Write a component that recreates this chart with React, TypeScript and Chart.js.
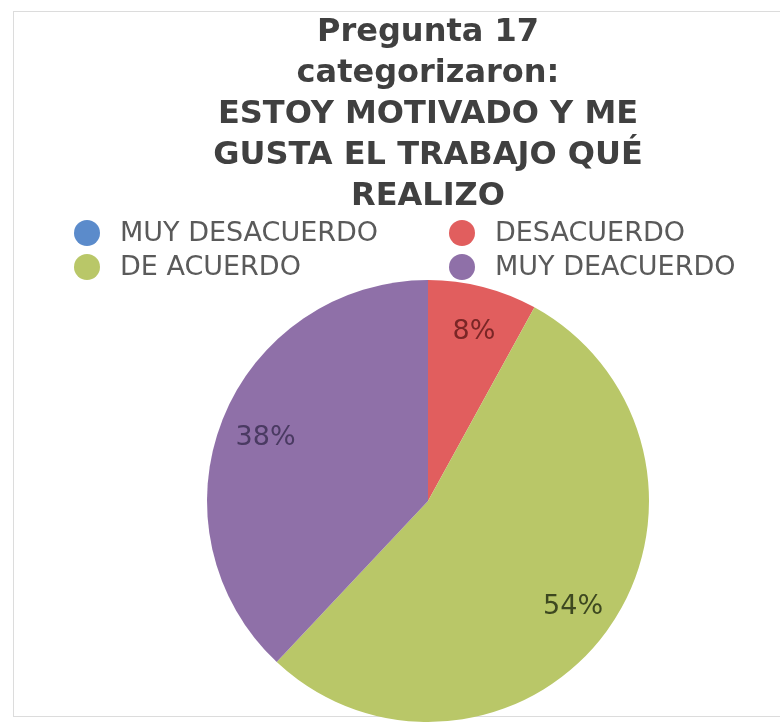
import React, { useEffect, useRef } from "react";
import { Chart, registerables } from "chart.js";

Chart.register(...registerables);

const titleLines = [
  "Pregunta 17",
  "categorizaron:",
  "ESTOY MOTIVADO Y ME",
  "GUSTA EL TRABAJO QUÉ",
  "REALIZO",
];
const categories = ["MUY DESACUERDO", "DESACUERDO", "DE ACUERDO", "MUY DEACUERDO"];
const percentages = [0, 8, 54, 38];
const sliceColors = ["#5B8BCB", "#E15E5E", "#B9C768", "#8F70A8"];
const labelColors = ["#2e4a70", "#7a2626", "#3d4820", "#4a3a62"];

// Two-column legend drawn between the title and the pie
const gridLegend = {
  id: "gridLegend",
  afterDraw(chart: any) {
    const ctx = chart.ctx;
    const colX = [87, 462];
    const rowY = [233, 267];
    ctx.save();
    ctx.font = "27px 'DejaVu Sans'";
    ctx.textBaseline = "middle";
    ctx.textAlign = "left";
    categories.forEach((name, i) => {
      const x = colX[i % 2];
      const y = rowY[Math.floor(i / 2)];
      ctx.fillStyle = sliceColors[i];
      ctx.beginPath();
      ctx.arc(x, y, 13, 0, Math.PI * 2);
      ctx.fill();
      ctx.fillStyle = "#5a5a5a";
      ctx.fillText(name, x + 33, y + 1);
    });
    ctx.restore();
  },
};

// Percentage labels placed inside each slice
const sliceLabels = {
  id: "sliceLabels",
  afterDatasetsDraw(chart: any) {
    const ctx = chart.ctx;
    const meta = chart.getDatasetMeta(0);
    ctx.save();
    ctx.font = "27px 'DejaVu Sans'";
    ctx.textAlign = "center";
    ctx.textBaseline = "middle";
    meta.data.forEach((arc: any, i: number) => {
      const v = percentages[i];
      if (!v) return;
      const { x, y, startAngle, endAngle, outerRadius } = arc.getProps(
        ["x", "y", "startAngle", "endAngle", "outerRadius"],
        true
      );
      const mid = (startAngle + endAngle) / 2;
      const r = outerRadius * 0.8;
      ctx.fillStyle = labelColors[i];
      ctx.fillText(`${v}%`, x + Math.cos(mid) * r + 2, y + Math.sin(mid) * r + 2);
    });
    ctx.restore();
  },
};

export default function App() {
  const canvasRef = useRef<HTMLCanvasElement>(null);

  useEffect(() => {
    if (!canvasRef.current) return;
    const chart = new Chart(canvasRef.current, {
      type: "pie",
      data: {
        labels: categories,
        datasets: [
          {
            data: percentages,
            backgroundColor: sliceColors,
            borderWidth: 0,
          },
        ],
      },
      options: {
        animation: false,
        responsive: false,
        maintainAspectRatio: false,
        layout: { padding: { left: 207, right: 131, top: 0, bottom: 1 } },
        plugins: {
          legend: { display: false },
          tooltip: { enabled: false },
          title: {
            display: true,
            text: titleLines,
            color: "#404040",
            font: { family: "'DejaVu Sans'", size: 32, weight: "bold", lineHeight: 41 / 32 },
            padding: { top: 12, bottom: 63 },
          },
        },
      },
      plugins: [gridLegend, sliceLabels],
    });
    return () => chart.destroy();
  }, []);

  return (
    <div style={{ position: "absolute", left: 0, top: 0, width: 780, height: 723, background: "#fff" }}>
      <div
        style={{
          position: "absolute",
          left: 13,
          top: 11,
          width: 790,
          height: 706,
          border: "1px solid #dcdcdc",
          boxSizing: "border-box",
        }}
      />
      <canvas
        ref={canvasRef}
        width={780}
        height={723}
        style={{ position: "absolute", left: 0, top: 0, width: 780, height: 723 }}
      />
    </div>
  );
}
